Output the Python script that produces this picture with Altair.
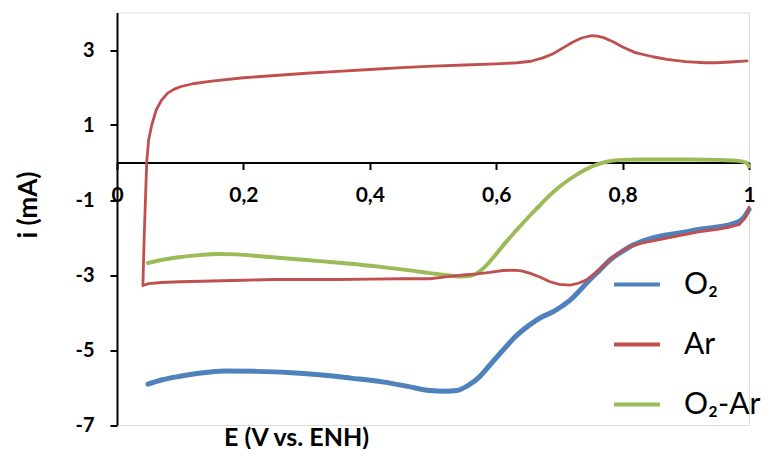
import altair as alt
import pandas as pd

# O2 (blue)
o2_E = [0.049, 0.07, 0.1, 0.13, 0.17, 0.22, 0.27, 0.32, 0.37, 0.42, 0.46, 0.495, 0.52, 0.538, 0.555,
        0.574, 0.59, 0.611, 0.63, 0.653, 0.672, 0.69, 0.705, 0.717, 0.733, 0.748, 0.765, 0.78, 0.795,
        0.812, 0.84, 0.87, 0.9, 0.922, 0.95, 0.975, 0.99, 1.0]
o2_I = [-5.91, -5.8, -5.7, -5.62, -5.56, -5.57, -5.6, -5.66, -5.75, -5.85, -5.97, -6.08, -6.1, -6.08, -5.95,
        -5.71, -5.4, -5.0, -4.65, -4.33, -4.12, -3.98, -3.82, -3.67, -3.4, -3.13, -2.85, -2.6, -2.42,
        -2.24, -2.05, -1.93, -1.85, -1.78, -1.72, -1.63, -1.5, -1.25]

# Ar (red) - path: cathodic sweep from E=1 down, then anodic sweep back up
ar_E = [1.000, 0.995, 0.985, 0.97, 0.95, 0.92, 0.89, 0.86, 0.83, 0.81, 0.79, 0.775, 0.76, 0.743, 0.73,
        0.717, 0.70, 0.685, 0.67, 0.653, 0.64, 0.627, 0.61, 0.59, 0.57, 0.548, 0.52, 0.495, 0.45, 0.40,
        0.35, 0.30, 0.25, 0.20, 0.15, 0.10, 0.07, 0.05, 0.041,
        0.043, 0.045, 0.047, 0.05, 0.055, 0.062, 0.07, 0.08, 0.09, 0.10, 0.12, 0.15, 0.2, 0.25, 0.3,
        0.35, 0.4, 0.45, 0.5, 0.55, 0.6, 0.633, 0.655, 0.674, 0.69, 0.705, 0.72, 0.735, 0.75, 0.76,
        0.77, 0.785, 0.80, 0.82, 0.848, 0.87, 0.90, 0.93, 0.949, 0.97, 0.997]
ar_I = [-1.2, -1.45, -1.65, -1.72, -1.78, -1.85, -1.95, -2.05, -2.15, -2.25, -2.45, -2.68, -2.9, -3.13, -3.22,
        -3.27, -3.25, -3.18, -3.06, -2.95, -2.89, -2.87, -2.88, -2.93, -2.97, -3.0, -3.05, -3.1, -3.1, -3.11,
        -3.12, -3.12, -3.12, -3.14, -3.16, -3.18, -3.2, -3.23, -3.28,
        -2.0, -1.0, 0.0, 0.6, 1.0, 1.4, 1.65, 1.85, 1.95, 2.02, 2.1, 2.17, 2.26, 2.32, 2.38,
        2.43, 2.48, 2.53, 2.57, 2.6, 2.63, 2.66, 2.7, 2.79, 2.9, 3.05, 3.2, 3.32, 3.38, 3.37,
        3.33, 3.22, 3.08, 2.93, 2.82, 2.75, 2.69, 2.66, 2.66, 2.68, 2.71]

# O2-Ar (green)
diff_E = [0.049, 0.07, 0.1, 0.13, 0.158, 0.19, 0.226, 0.27, 0.32, 0.37, 0.42, 0.46, 0.495, 0.52, 0.543,
          0.56, 0.574, 0.588, 0.601, 0.614, 0.627, 0.64, 0.653, 0.667, 0.68, 0.695, 0.71, 0.725, 0.74,
          0.755, 0.77, 0.785, 0.80, 0.83, 0.87, 0.91, 0.95, 0.98, 0.995, 1.0]
diff_I = [-2.68, -2.6, -2.52, -2.47, -2.44, -2.45, -2.5, -2.56, -2.63, -2.7, -2.79, -2.87, -2.95, -3.0, -3.04,
          -3.02, -2.9, -2.68, -2.42, -2.15, -1.9, -1.66, -1.42, -1.18, -0.95, -0.72, -0.52, -0.35, -0.2,
          -0.08, 0.0, 0.05, 0.07, 0.08, 0.08, 0.08, 0.07, 0.05, 0.0, -0.1]

series_names = ["O\u2082", "Ar", "O\u2082-Ar"]
series_colors = ["#4F81BD", "#C0504D", "#9BBB59"]
x_ticks = [0, 0.2, 0.4, 0.6, 0.8, 1]
y_ticks = [-7, -5, -3, -1, 1, 3]

rows = []
for name, E, I in zip(series_names, [o2_E, ar_E, diff_E], [o2_I, ar_I, diff_I]):
    for k, (e, i) in enumerate(zip(E, I)):
        rows.append({"E": e, "I": i, "series": name, "order": k})
df = pd.DataFrame(rows)

FONT = "Lato"

x_enc = alt.X("E:Q", scale=alt.Scale(domain=[0, 1], nice=False),
              axis=alt.Axis(values=x_ticks, offset=-262.5, grid=False,
                            labelExpr="replace(format(datum.value, '~g'), '.', ',')",
                            labelFont=FONT, labelFontSize=21, labelFontWeight="bold", labelColor="#000",
                            labelPadding=15, labelFlush=False, labelOverlap=False,
                            tickSize=7, tickWidth=2, tickColor="#000", domainColor="#000", domainWidth=2,
                            title="E (V vs. ENH)", titleFont=FONT, titleFontSize=25, titleFontWeight="bold",
                            titleColor="#000", titleX=179, titleY=282.5, titleAlign="center",
                            titleBaseline="alphabetic"))
y_enc = alt.Y("I:Q", scale=alt.Scale(domain=[-7, 4], nice=False, zero=False),
              axis=alt.Axis(values=y_ticks, grid=False,
                            labelExpr="replace(datum.label, '\u2212', '-')",
                            labelFont=FONT, labelFontSize=20, labelFontWeight="bold", labelColor="#000",
                            labelPadding=16, labelFlush=False, labelOverlap=False,
                            tickSize=7, tickWidth=2, tickColor="#000", domainColor="#000", domainWidth=2,
                            title="i (mA)", titleFont=FONT, titleFontSize=26, titleFontWeight="bold",
                            titleColor="#000", titleX=-89, titleY=192, titleAlign="center",
                            titleAngle=270, titleBaseline="middle"))
color_enc = alt.Color("series:N", scale=alt.Scale(domain=series_names, range=series_colors),
                      legend=alt.Legend(orient="none", legendX=495, legendY=247, title=None,
                                        symbolType="stroke", symbolSize=2116, symbolStrokeWidth=4,
                                        labelFont=FONT, labelFontSize=30, labelColor="#000",
                                        labelOffset=22, rowPadding=20, padding=0))

base = alt.Chart(df).encode(x=x_enc, y=y_enc, color=color_enc, order="order:Q")
widths = {"O\u2082": 5, "Ar": 2.8, "O\u2082-Ar": 4}
interp = {"O\u2082": "monotone", "Ar": "linear", "O\u2082-Ar": "monotone"}
layers = []
for name in ["O\u2082", "O\u2082-Ar", "Ar"]:
    layers.append(base.transform_filter(alt.datum.series == name)
                  .mark_line(strokeWidth=widths[name], strokeCap="round", strokeJoin="round",
                             interpolate=interp[name]))

chart = alt.layer(*layers).properties(
    width=632, height=412.5,
    padding={"left": 109, "top": 4.5, "right": 14, "bottom": 24},
    autosize=alt.AutoSizeParams(type="none"),
).configure_view(stroke=None).configure(background="white")

chart.save("out.html", embed_options={"renderer": "svg", "actions": False})
